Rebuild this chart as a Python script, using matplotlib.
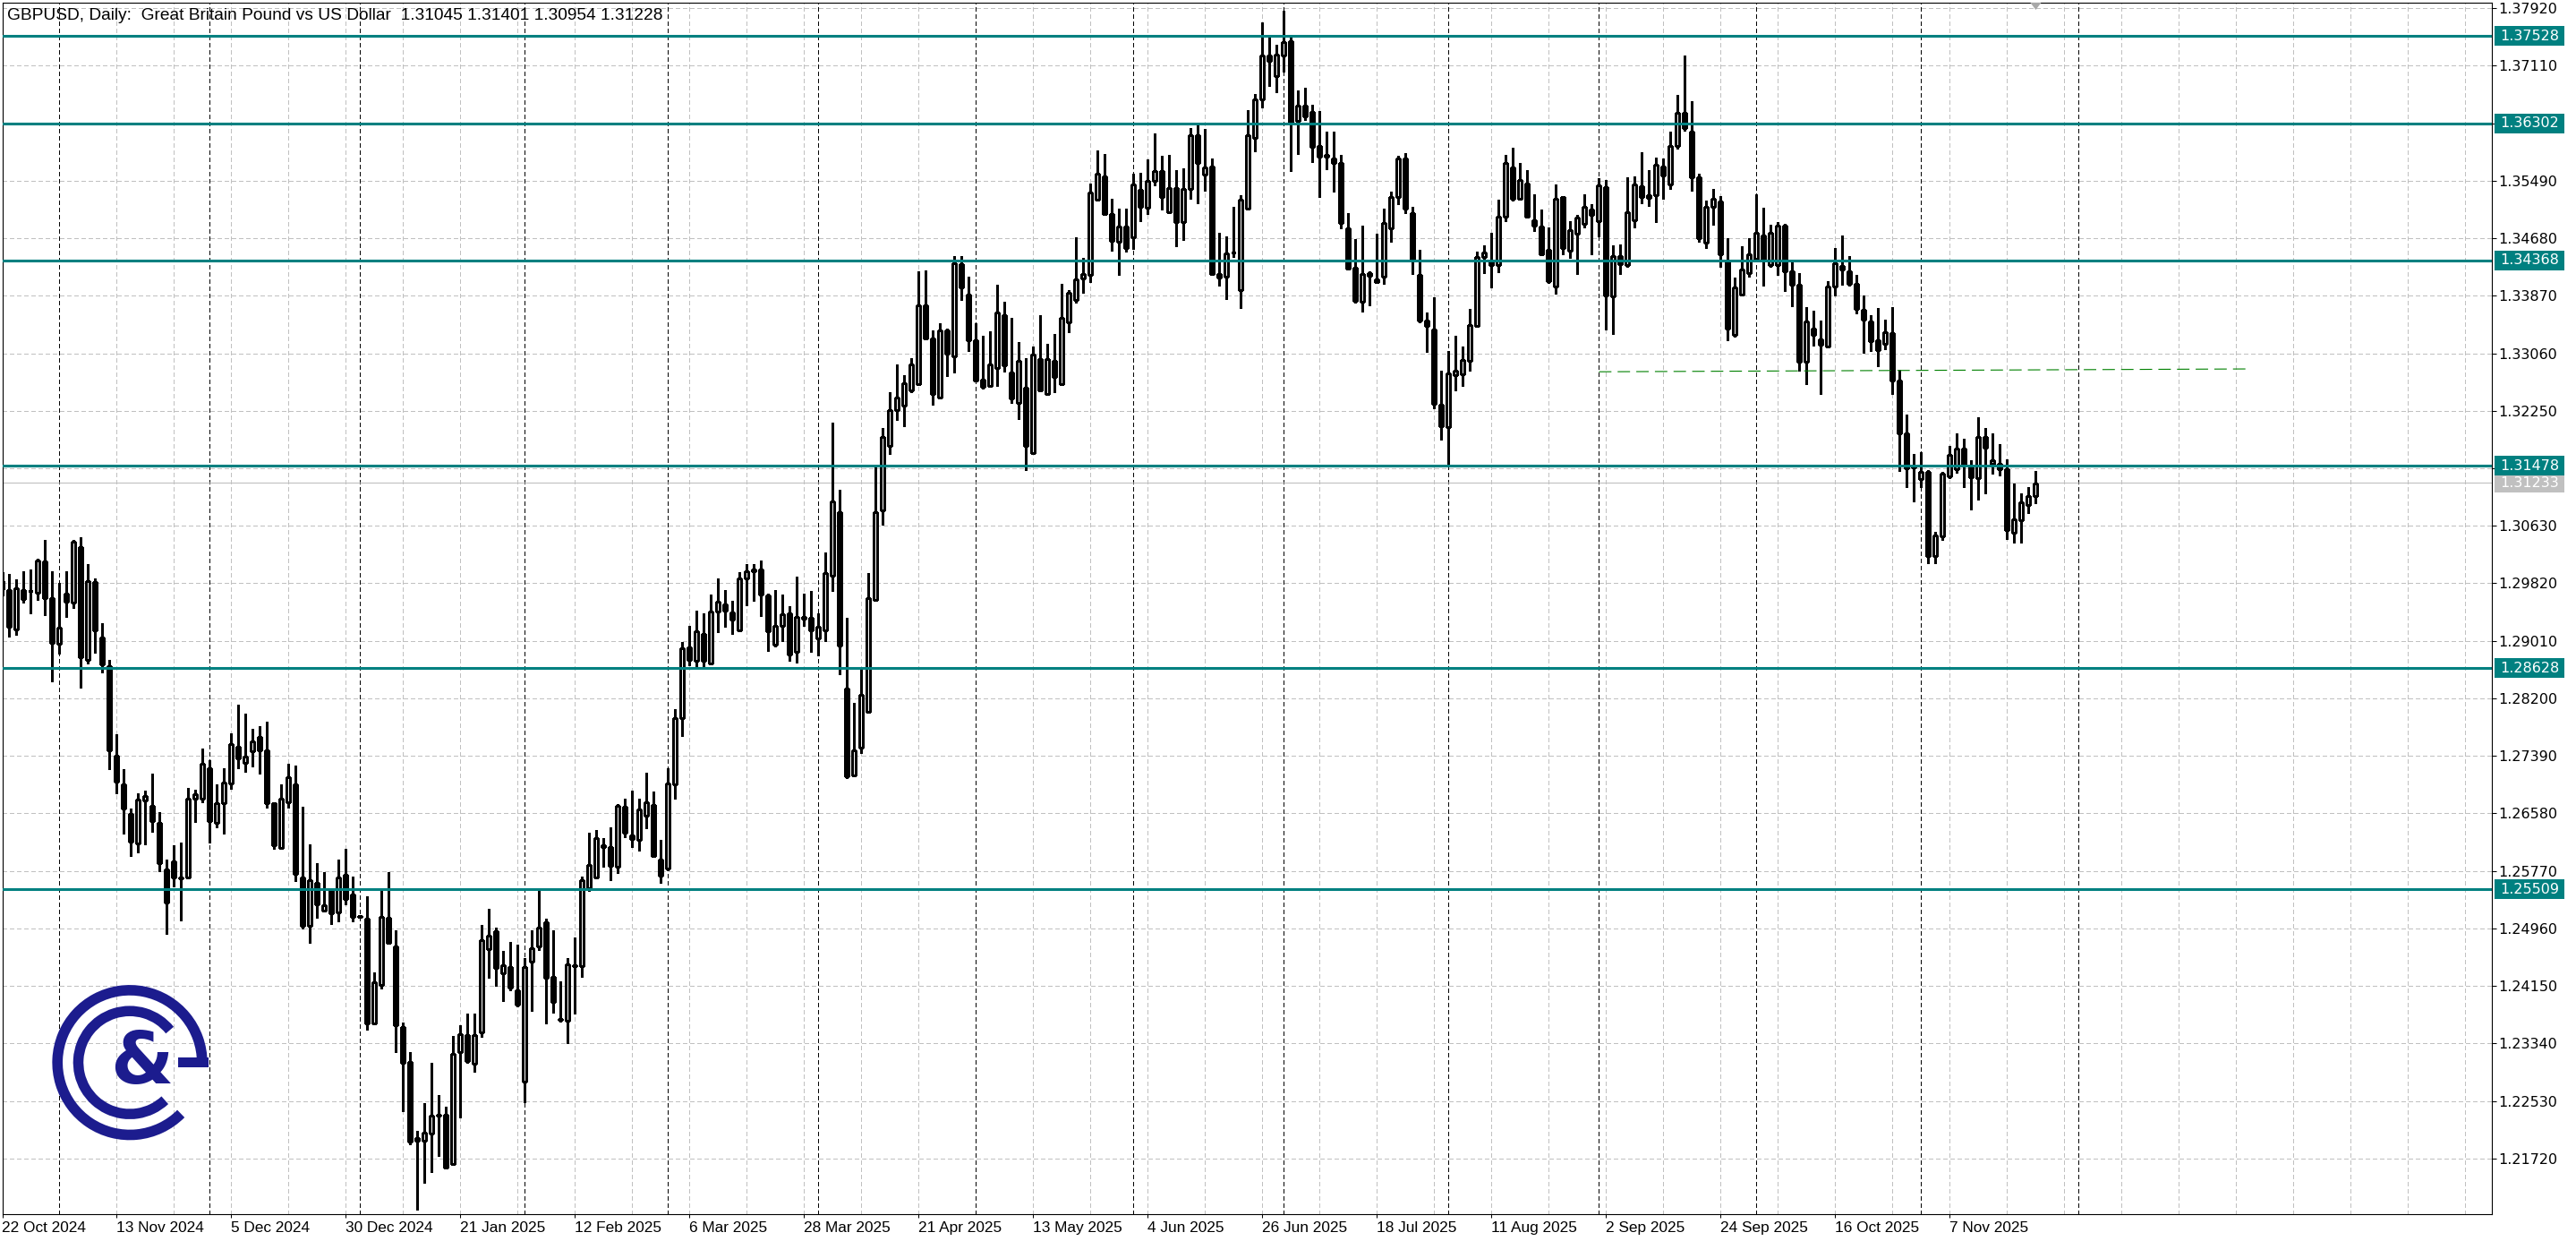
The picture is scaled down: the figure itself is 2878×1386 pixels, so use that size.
import numpy as np
import pandas as pd
import matplotlib
matplotlib.use("Agg")
import matplotlib.pyplot as plt
from matplotlib.patches import Rectangle, Arc, Polygon

plt.rcParams['lines.scale_dashes'] = False

# ---------------- data ----------------
symbol_title = "GBPUSD, Daily:  Great Britain Pound vs US Dollar"
first_date = "2024-10-22"
closed_days = ["2024-12-25"]

opens = [1.2985,1.29723,1.29175,1.29723,1.29719,1.29690,1.30124,1.29618,1.28972,1.29681,
1.29555,1.30327,1.28745,1.29837,1.29061,1.28656,1.27390,1.26990,1.26572,1.26150,
1.26762,1.26686,1.26441,1.25787,1.25905,1.25682,1.25682,1.26783,1.26783,1.27213,
1.26441,1.26720,1.27002,1.27517,1.27289,1.27454,1.27656,1.27466,1.26720,1.26095,
1.26737,1.26990,1.25682,1.24990,1.25597,1.25209,1.25484,1.25188,1.25716,1.25441,
1.25138,1.25091,1.23615,1.24163,1.25104,1.24711,1.23572,1.23079,1.22011,1.21973,
1.22075,1.22340,1.22332,1.21644,1.23214,1.23458,1.23049,1.23501,1.24669,1.24922,
1.24323,1.24416,1.24087,1.22805,1.24492,1.24703,1.25049,1.24281,1.23686,1.23657,
1.24441,1.24429,1.25526,1.25682,1.26137,1.26108,1.25834,1.26673,1.26264,1.26213,
1.26547,1.26694,1.25926,1.25808,1.26989,1.27922,1.28914,1.28734,1.29109,1.28689,
1.29425,1.29525,1.29410,1.29159,1.29891,1.29991,1.30011,1.29650,1.28959,1.29225,
1.29400,1.28849,1.29350,1.29340,1.29039,1.29159,1.29926,1.30817,1.28338,1.27111,
1.27512,1.28007,1.29590,1.30842,1.31754,1.32255,1.32320,1.32540,1.32631,1.33742,
1.33267,1.32440,1.33382,1.33016,1.34318,1.33893,1.33247,1.32691,1.32605,1.32856,
1.33597,1.32791,1.32355,1.32573,1.31650,1.32984,1.32487,1.32948,1.32632,1.33500,
1.33816,1.34115,1.34169,1.35218,1.35557,1.35019,1.34635,1.34847,1.34698,1.35367,
1.35105,1.35494,1.35629,1.35051,1.35390,1.34915,1.35381,1.36127,1.35571,1.35697,
1.34178,1.34137,1.34476,1.33952,1.35096,1.36100,1.36633,1.37253,1.36963,1.37253,
1.37456,1.36330,1.36552,1.36466,1.35978,1.35851,1.35806,1.35742,1.34815,1.34268,
1.33792,1.34185,1.34096,1.34138,1.34818,1.35261,1.35798,1.35038,1.34164,1.33518,
1.33391,1.32336,1.32019,1.32758,1.32770,1.32956,1.33446,1.34413,1.34341,1.34299,
1.34983,1.35679,1.35240,1.35451,1.34932,1.34848,1.34518,1.33995,1.35257,1.34501,
1.34742,1.34881,1.35088,1.34919,1.35405,1.33868,1.34425,1.34299,1.34932,1.35418,
1.35249,1.35282,1.35692,1.35439,1.35979,1.36443,1.36177,1.35544,1.34621,1.35119,
1.35203,1.34347,1.33326,1.33883,1.34191,1.34397,1.34718,1.34304,1.34304,1.34853,
1.34212,1.34022,1.32946,1.33406,1.33262,1.33157,1.33996,1.34292,1.34220,1.34039,
1.33672,1.33515,1.33241,1.33199,1.33347,1.32672,1.31929,1.31448,1.31288,1.31393,
1.30204,1.30478,1.31330,1.31427,1.31722,1.31465,1.31301,1.31887,1.31507,1.31507,
1.31423,1.30528,1.30710,1.30929,1.31045]

highs = [1.2998,1.29955,1.29871,1.29989,1.30010,1.30166,1.30432,1.29985,1.29829,1.29989,
1.30428,1.30470,1.30095,1.29884,1.29259,1.28740,1.27698,1.27205,1.26644,1.26864,
1.26897,1.27142,1.26593,1.25935,1.26129,1.26172,1.26939,1.26918,1.27496,1.27327,
1.26990,1.27213,1.27707,1.28112,1.27985,1.27774,1.27812,1.27876,1.26720,1.26990,
1.27277,1.27255,1.26677,1.26138,1.25876,1.25749,1.25505,1.25927,1.26075,1.25695,
1.25146,1.25408,1.24344,1.25505,1.25758,1.24935,1.23636,1.23218,1.22108,1.22501,
1.23066,1.22615,1.22446,1.23446,1.23598,1.23766,1.23766,1.25011,1.25230,1.24977,
1.24640,1.24775,1.24733,1.24543,1.24935,1.25505,1.25095,1.24935,1.24218,1.24543,
1.24838,1.25694,1.26306,1.26340,1.26230,1.26382,1.26707,1.26783,1.26897,1.26783,
1.27150,1.26884,1.26213,1.2722,1.2805,1.28999,1.29225,1.29440,1.29400,1.29660,
1.29886,1.29725,1.29575,1.29976,1.30091,1.30091,1.30136,1.29675,1.29725,1.29665,
1.29500,1.29911,1.29675,1.29715,1.29400,1.30251,1.32080,1.31138,1.29340,1.28138,
1.28599,1.29961,1.31453,1.32014,1.32515,1.32906,1.32746,1.32991,1.34218,1.34223,
1.33382,1.33482,1.33407,1.34434,1.34434,1.34143,1.33482,1.33307,1.33367,1.34023,
1.33782,1.33557,1.33221,1.32993,1.33161,1.33595,1.33197,1.33332,1.34042,1.33956,
1.34689,1.34409,1.35448,1.35923,1.35864,1.35231,1.35096,1.35096,1.35593,1.35602,
1.35797,1.36158,1.35842,1.35851,1.35638,1.35670,1.36235,1.36280,1.36217,1.35806,
1.34757,1.34711,1.35118,1.35290,1.36484,1.36710,1.37718,1.37537,1.37402,1.37890,
1.37528,1.36760,1.36805,1.36565,1.36475,1.36181,1.36181,1.35855,1.35037,1.34675,
1.34856,1.34214,1.34750,1.35101,1.35342,1.35840,1.35882,1.35122,1.34518,1.33632,
1.33855,1.32821,1.33096,1.33307,1.33150,1.33687,1.34489,1.34582,1.34763,1.35228,
1.35861,1.35954,1.35747,1.35641,1.35304,1.35088,1.34827,1.35439,1.35270,1.34919,
1.35016,1.35304,1.35156,1.35523,1.35502,1.34582,1.34594,1.35544,1.35557,1.35895,
1.35637,1.35819,1.35798,1.36186,1.36705,1.37254,1.36608,1.35595,1.35212,1.35372,
1.35275,1.34684,1.34127,1.34570,1.34676,1.35304,1.35106,1.34866,1.34908,1.34882,
1.34347,1.34191,1.33714,1.33663,1.33524,1.34081,1.34549,1.34714,1.34431,1.34165,
1.33874,1.33596,1.33693,1.33532,1.33705,1.32828,1.32195,1.31646,1.31668,1.31414,
1.30550,1.31393,1.31752,1.31929,1.31857,1.31549,1.32161,1.32005,1.31929,1.31781,
1.31562,1.31225,1.31090,1.31174,1.31401]

lows = [1.2965,1.29070,1.29099,1.29555,1.29394,1.29588,1.29373,1.28437,1.28825,1.29352,
1.29479,1.28352,1.28690,1.28846,1.28563,1.27201,1.26867,1.26299,1.25981,1.26032,
1.26138,1.26315,1.25766,1.24885,1.25547,1.25074,1.25673,1.26454,1.26737,1.26167,
1.26382,1.26299,1.26931,1.27213,1.27171,1.27247,1.27142,1.26656,1.26083,1.26075,
1.26665,1.25631,1.24956,1.24758,1.25104,1.25201,1.25020,1.25062,1.2530,1.25062,
1.25116,1.23530,1.23606,1.24112,1.2474,1.23214,1.22391,1.21919,1.20999,1.21379,
1.21530,1.21750,1.2158,1.21623,1.22298,1.2307,1.22944,1.23437,1.24260,1.24146,
1.23931,1.24083,1.23859,1.22509,1.23796,1.24661,1.23615,1.23775,1.23648,1.23340,
1.23754,1.24281,1.25483,1.25682,1.25829,1.25644,1.25745,1.26243,1.26108,1.26061,
1.26369,1.2597,1.25602,1.2578,1.2679,1.27672,1.28664,1.28649,1.28649,1.28674,
1.29134,1.29210,1.29109,1.29159,1.29515,1.29575,1.29360,1.28874,1.28934,1.29009,
1.28734,1.28699,1.29225,1.28859,1.28799,1.29009,1.29715,1.28538,1.27071,1.27096,
1.27431,1.27997,1.29590,1.30642,1.31644,1.32120,1.32029,1.32515,1.32631,1.33257,
1.32340,1.32440,1.32741,1.32796,1.33808,1.33096,1.32671,1.32565,1.32605,1.32605,
1.32806,1.32365,1.32130,1.31411,1.31650,1.32528,1.32487,1.32518,1.32632,1.33355,
1.33771,1.33911,1.34065,1.35218,1.35005,1.34508,1.34160,1.34494,1.34531,1.34924,
1.35028,1.35421,1.35087,1.35051,1.34562,1.34657,1.35231,1.35173,1.35354,1.34169,
1.34011,1.33830,1.34418,1.33703,1.35096,1.35910,1.36529,1.36828,1.36737,1.37027,
1.35625,1.35864,1.36348,1.35760,1.35263,1.35652,1.35335,1.34824,1.34246,1.3378,
1.33653,1.33737,1.3405,1.34033,1.34628,1.35156,1.35029,1.34172,1.3350,1.33074,
1.32285,1.31850,1.31491,1.32538,1.32602,1.32813,1.33446,1.34185,1.33991,1.34206,
1.34919,1.35206,1.35240,1.3497,1.34784,1.3444,1.34054,1.33906,1.34459,1.34404,
1.34172,1.34827,1.34459,1.34708,1.33391,1.33336,1.34172,1.34278,1.34827,1.35177,
1.35130,1.34911,1.35240,1.35375,1.35945,1.36199,1.35346,1.34637,1.34545,1.34874,
1.34275,1.33250,1.33300,1.33874,1.34136,1.34380,1.34018,1.34283,1.34169,1.33937,
1.33722,1.32819,1.32625,1.33165,1.32490,1.33153,1.33870,1.34022,1.34009,1.33621,
1.33068,1.33089,1.32883,1.33115,1.32482,1.31402,1.31182,1.30971,1.31182,1.30107,
1.30107,1.30436,1.31301,1.31372,1.31174,1.30858,1.31005,1.31085,1.31360,1.31343,
1.30444,1.30393,1.30393,1.30811,1.30954]

closes = [1.2974,1.29209,1.29745,1.29605,1.29711,1.30137,1.29618,1.28985,1.29196,1.29563,
1.30407,1.28783,1.29850,1.29162,1.28677,1.27466,1.27032,1.26644,1.26180,1.26770,
1.26821,1.26475,1.25884,1.25327,1.25682,1.25669,1.26783,1.26846,1.27277,1.26475,
1.26720,1.27011,1.27551,1.27352,1.27374,1.27593,1.27466,1.26720,1.26125,1.26791,
1.27087,1.25724,1.24998,1.25640,1.25302,1.25285,1.25176,1.25682,1.25378,1.25125,
1.25125,1.23615,1.24197,1.25125,1.24754,1.23593,1.23070,1.21952,1.21973,1.22087,
1.22319,1.22319,1.21590,1.23193,1.23471,1.23087,1.23458,1.24796,1.24863,1.24399,
1.24441,1.24125,1.23880,1.24416,1.24682,1.24977,1.24268,1.23923,1.23669,1.24450,
1.24425,1.25640,1.25859,1.26234,1.26112,1.25842,1.26686,1.26302,1.26222,1.26635,
1.26736,1.25981,1.25707,1.27002,1.2792,1.28909,1.28739,1.29149,1.28734,1.29425,
1.29560,1.29440,1.29310,1.29891,1.29991,1.30011,1.29660,1.29139,1.29225,1.29390,
1.28814,1.29350,1.29325,1.29159,1.29210,1.29966,1.30978,1.28949,1.27106,1.27462,
1.28248,1.29610,1.30817,1.31879,1.32255,1.32440,1.32641,1.32906,1.33742,1.33272,
1.32490,1.33382,1.33056,1.34328,1.33983,1.33247,1.32681,1.32590,1.32906,1.33632,
1.32896,1.32420,1.32956,1.31750,1.33038,1.32541,1.32980,1.32722,1.33558,1.33911,
1.34101,1.34178,1.35331,1.35584,1.35019,1.34644,1.34847,1.34540,1.35435,1.35127,
1.35494,1.35629,1.35268,1.35390,1.34915,1.35376,1.36127,1.35738,1.35684,1.34178,
1.34133,1.34463,1.34485,1.35222,1.36136,1.36633,1.37253,1.37176,1.37266,1.37438,
1.36317,1.36543,1.36393,1.35968,1.35833,1.35833,1.35742,1.34892,1.34259,1.33794,
1.34172,1.34151,1.34067,1.34898,1.35261,1.35798,1.35092,1.34375,1.33518,1.33446,
1.32348,1.32032,1.32779,1.32813,1.32969,1.33463,1.34413,1.34476,1.34299,1.34983,
1.35743,1.35240,1.35502,1.34983,1.34856,1.34459,1.34079,1.35240,1.34539,1.34793,
1.34974,1.35122,1.35016,1.35426,1.33877,1.34425,1.34320,1.35050,1.35439,1.35261,
1.35291,1.35722,1.35565,1.35979,1.36452,1.36232,1.35536,1.34679,1.35127,1.35233,
1.34452,1.33406,1.33988,1.34241,1.34461,1.34760,1.34397,1.34760,1.34853,1.34212,
1.34022,1.32946,1.33503,1.33326,1.33178,1.33996,1.34326,1.34241,1.34039,1.33680,
1.33532,1.33237,1.33102,1.33355,1.32680,1.31929,1.31444,1.31478,1.31393,1.30204,
1.30495,1.31364,1.31625,1.31722,1.31499,1.31317,1.31887,1.31731,1.31549,1.31427,
1.30571,1.30727,1.30963,1.31047,1.31228]

level_prices = [1.37528, 1.36302, 1.34368, 1.31478, 1.28628, 1.25509]
bid_price = 1.31233
price_ticks = [1.37920, 1.37110, 1.36300, 1.35490, 1.34680, 1.33870, 1.33060, 1.32250,
               1.31440, 1.30630, 1.29820, 1.29010, 1.28200, 1.27390, 1.26580, 1.25770,
               1.24960, 1.24150, 1.23340, 1.22530, 1.21720]
hidden_ticks = [1.36300, 1.31440]          # covered by level boxes in the original
trend_bars = [223, 313.5]
trend_prices = [1.3280, 1.3284]
date_label_step = 16

# ---------------- figure ----------------
W, H, DPI = 2878, 1386, 100
fig = plt.figure(figsize=(W / DPI, H / DPI), dpi=DPI)
fig.patch.set_facecolor('white')

L_PX, R_PX, T_PX, B_PX = 2.5, 2784.0, 2.5, 1356.0
ax = fig.add_axes([L_PX / W, (H - B_PX) / H, (R_PX - L_PX) / W, (B_PX - T_PX) / H])
ax.set_facecolor('white')
ax.set_xlim(0.025, 347.7)
ax.set_ylim(1.20935, 1.38005)

n = len(opens)
o = np.array(opens); h = np.array(highs); l = np.array(lows); c = np.array(closes)
x = np.arange(n)

# dates
dates = pd.bdate_range(first_date, periods=n + 10)
dates = dates[~dates.isin(pd.to_datetime(closed_days))][:n]

GRID = '#c0c0c0'
for p in price_ticks:
    ax.axhline(p, color=GRID, lw=0.75, ls=(0, (2.9, 2.2)), zorder=0.5, antialiased=False)
for b in range(0, 348, 8):
    ax.axvline(b, color=GRID, lw=0.75, ls=(0, (2.9, 2.2)), zorder=0.5, antialiased=False)

# period separators (month starts)
seps = [i for i in range(1, n) if dates[i].month != dates[i - 1].month]
fut = pd.date_range(dates[-1], periods=40, freq='D')
for k in range(1, len(fut)):
    if fut[k].month != fut[k - 1].month:
        seps.append(n - 1 + k)
        break
for b in seps:
    ax.axvline(b, color='black', lw=0.75, ls=(0, (2.9, 2.2)), zorder=0.8, antialiased=False)

# bid line
ax.axhline(bid_price, color='#c0c0c0', lw=0.8, zorder=1)

# candles
ax.vlines(x, l, h, color='black', lw=0.75, zorder=3, antialiased=False)
up = c >= o
bot = np.minimum(o, c)
ht = np.abs(c - o)
ax.bar(x[up], ht[up], bottom=bot[up], width=0.5, facecolor='white', edgecolor='black',
       linewidth=0.75, zorder=4, antialiased=False)
ax.bar(x[~up], ht[~up], bottom=bot[~up], width=0.5, facecolor='black', edgecolor='black',
       linewidth=0.75, zorder=4, antialiased=False)

# horizontal levels
TEAL = '#008080'
for p in level_prices:
    ax.axhline(p, color=TEAL, lw=2.2, zorder=5)

# trend line
ax.plot(trend_bars, trend_prices, color='#008000', lw=0.8, ls=(0, (10, 5)), zorder=5)

for s in ax.spines.values():
    s.set_color('black')
    s.set_linewidth(0.8)

# y ticks on right
ax.yaxis.tick_right()
ax.set_yticks(price_ticks)
ax.set_yticklabels([("" if p in hidden_ticks else f"{p:.5f}") for p in price_ticks])
ax.tick_params(axis='y', which='both', right=True, left=False, length=3.5, width=0.75,
               pad=2, labelsize=11.5, colors='black')
for t in ax.get_yticklabels():
    t.set_fontfamily('DejaVu Sans')

# x ticks
xt = list(range(0, n, date_label_step))
ax.set_xticks(xt)
ax.set_xticklabels([f"{dates[i].day} {dates[i].strftime('%b %Y')}" for i in xt])
ax.tick_params(axis='x', length=3, width=0.75, pad=3, labelsize=12.4)
for t in ax.get_xticklabels():
    t.set_horizontalalignment('left')
    t.set_fontfamily('Liberation Sans')

fig.canvas.draw()

# ---------------- overlay (pixel space) ----------------
ov = fig.add_axes([0, 0, 1, 1], zorder=10)
ov.set_xlim(0, W); ov.set_ylim(0, H)
ov.axis('off')
ov.patch.set_alpha(0)

def ypix(p):
    return ax.transData.transform((0, p))[1]

def xpix(b):
    return ax.transData.transform((b, 0))[0]

yb = ypix(bid_price)
ov.add_patch(Rectangle((2787, yb - 11), 78, 22, facecolor='#c0c0c0', edgecolor='none'))
ov.text(2826, yb, f"{bid_price:.5f}", color='white', ha='center', va='center',
        fontsize=11.5, family='DejaVu Sans')
for p in level_prices:
    yy = ypix(p)
    ov.add_patch(Rectangle((2787, yy - 11), 78, 22, facecolor=TEAL, edgecolor='none'))
    ov.text(2826, yy, f"{p:.5f}", color='white', ha='center', va='center',
            fontsize=11.5, family='DejaVu Sans')

# header
ov.text(8, H - 18, f"{symbol_title}  " + " ".join(f"{v:.5f}" for v in
        (opens[-1], highs[-1], lows[-1], closes[-1])),
        ha='left', va='center', fontsize=13.8, family='Liberation Sans', color='black')

# shift marker
xs = xpix(n - 1)
ov.add_patch(Polygon([(xs - 6, H - 3), (xs + 6, H - 3), (xs, H - 11)], closed=True,
                     facecolor='#a8a8a8', edgecolor='none'))

# logo
LOGO = '#1c1c8e'
cx, cy = 145, H - 1186.7
ov.add_patch(Arc((cx, cy), 2 * 80.8, 2 * 80.8, theta1=0, theta2=315, lw=8.4, color=LOGO))
ov.add_patch(Rectangle((199, cy - 5.5), 34, 11, facecolor=LOGO, edgecolor='none'))
ov.add_patch(Arc((cx, cy), 2 * 57.5, 2 * 57.5, theta1=39, theta2=313, lw=8.3, color=LOGO))
ov.text(cx + 13, cy - 1, "&", ha='center', va='center', fontsize=58, fontweight='bold',
        family='DejaVu Sans', color=LOGO)

fig.savefig("out.png", dpi=DPI, facecolor='white')
